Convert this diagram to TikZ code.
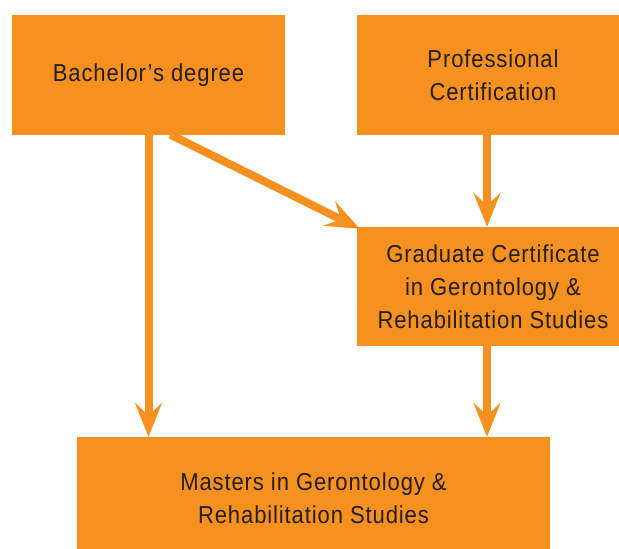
\documentclass[tikz,border=0pt]{standalone}
\usepackage{fontspec}
\setmainfont{Liberation Sans}[LetterSpace=3.6,FakeStretch=0.9]
\usetikzlibrary{arrows.meta,calc}
\definecolor{boxorange}{RGB}{246,144,30}
\definecolor{inktext}{RGB}{35,31,32}
\begin{document}
\begin{tikzpicture}[x=1pt,y=-1pt,
  box/.style={fill=boxorange,draw=none,inner sep=0pt,align=center,text=inktext,
    font=\fontsize{24.5}{33}\selectfont},
  flow/.style={draw=boxorange,line width=8pt,
    -{Stealth[length=34pt,width=27pt,inset=13pt]}}]
\useasboundingbox (0,0) rectangle (619,549);
\node[box,minimum width=273pt,minimum height=120pt] (b1) at (148.5,75) {Bachelor’s degree};
\node[box,minimum width=272pt,minimum height=120pt] (b2) at (493,75) {Professional\\Certification};
\node[box,minimum width=272pt,minimum height=119pt] (b3) at (493,286.5) {Graduate Certificate\\in Gerontology \&\\Rehabilitation Studies};
\node[box,minimum width=473pt,minimum height=122pt] (b4) at (313.5,498) {Masters in Gerontology \&\\Rehabilitation Studies};
\draw[flow] ([yshift=0.5pt]b1.south) -- (b1.south |- b4.north);
\draw[flow] ([xshift=22pt,yshift=0.5pt]b1.south) -- ([xshift=3pt,yshift=-2pt]b3.north west);
\draw[flow] ([xshift=-6pt,yshift=0.5pt]b2.south) -- ([xshift=-6pt]b3.north);
\draw[flow] ([xshift=-6pt,yshift=0.5pt]b3.south) -- ([xshift=-6pt]b3.south |- b4.north);
\end{tikzpicture}
\end{document}
